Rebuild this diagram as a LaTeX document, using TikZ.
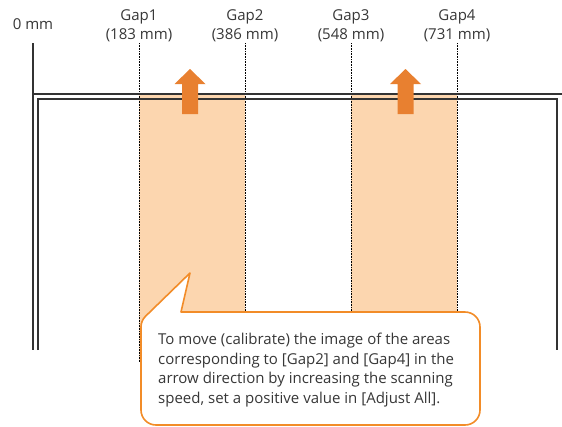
\documentclass[tikz,border=0pt]{standalone}
\usepackage{fontspec}
\setmainfont{Open Sans}
\usetikzlibrary{positioning}
\definecolor{bandfill}{RGB}{252,214,175}
\definecolor{arrorange}{RGB}{232,128,48}
\definecolor{calloutline}{RGB}{242,140,40}
\definecolor{darkline}{RGB}{51,51,51}
\definecolor{txtgray}{RGB}{55,55,55}

\begin{document}
\begin{tikzpicture}[
    x=1pt, y=-1pt,
    font=\fontsize{15}{19.5}\selectfont,
    text=txtgray,
    lbl/.style={align=center, inner sep=0pt},
    frame/.style={draw=darkline, line width=1.6pt},
    gapline/.style={densely dotted, line width=0.6pt, black},
    band/.style={fill=bandfill},
    callout/.style={draw=calloutline, line width=1.6pt, fill=white, line join=round},
    push/.style={fill=arrorange}
  ]
  \useasboundingbox (0,0) rectangle (562,426);
  % position labels
  \node[lbl] (zero) at (33,24) {0 mm};
  \node[lbl] (g1) at (139,26) {Gap1\\(183 mm)};
  \node[lbl] (g2) at (245,26) {Gap2\\(386 mm)};
  \node[lbl] (g3) at (351,26) {Gap3\\(548 mm)};
  \node[lbl] (g4) at (457,26) {Gap4\\(731 mm)};
  % shaded areas
  \fill[band] (139,94) rectangle (245,362);
  \fill[band] (351,94) rectangle (457,362);
  % gap positions
  \coordinate (g1top) at (139,43);
  \coordinate (g1bot) at (139,362);
  \coordinate (g2top) at (245,43);
  \coordinate (g2bot) at (245,362);
  \coordinate (g3top) at (351,43);
  \coordinate (g3bot) at (351,362);
  \coordinate (g4top) at (457,43);
  \coordinate (g4bot) at (457,362);
  \foreach \g in {g1,g2,g3,g4}
    \draw[gapline] (\g top) -- (\g bot);
  % paper frame
  \coordinate (zerotop) at (33,43);
  \draw[frame] (zerotop) -- (33,350);
  \draw[frame] (33,94) -- (562,94);
  \draw[frame] (38,350) -- (38,99) -- (557,99) -- (557,350);
  % direction arrows
  \foreach \cx in {190,405.5}
    \fill[push] (\cx-8,114) -- (\cx-8,84) -- (\cx-15.5,84) -- (\cx,69)
      -- (\cx+15.5,84) -- (\cx+8,84) -- (\cx+8,114) -- cycle;
  % note
  \coordinate (tip) at (190,273);
  \draw[callout] (181,312) -- (465,312) arc(270:360:15) -- (480,410) arc(0:90:15)
    -- (156,425) arc(90:180:15) -- (141,327) arc(180:225:15) -- (tip) -- cycle;
  \node[anchor=north west, align=left, inner sep=0pt] (note) at (158,333)
    {To move (calibrate) the image of the areas\\
     corresponding to [Gap2] and [Gap4] in the\\
     arrow direction by increasing the scanning\\
     speed, set a positive value in [Adjust All].};
\end{tikzpicture}
\end{document}
